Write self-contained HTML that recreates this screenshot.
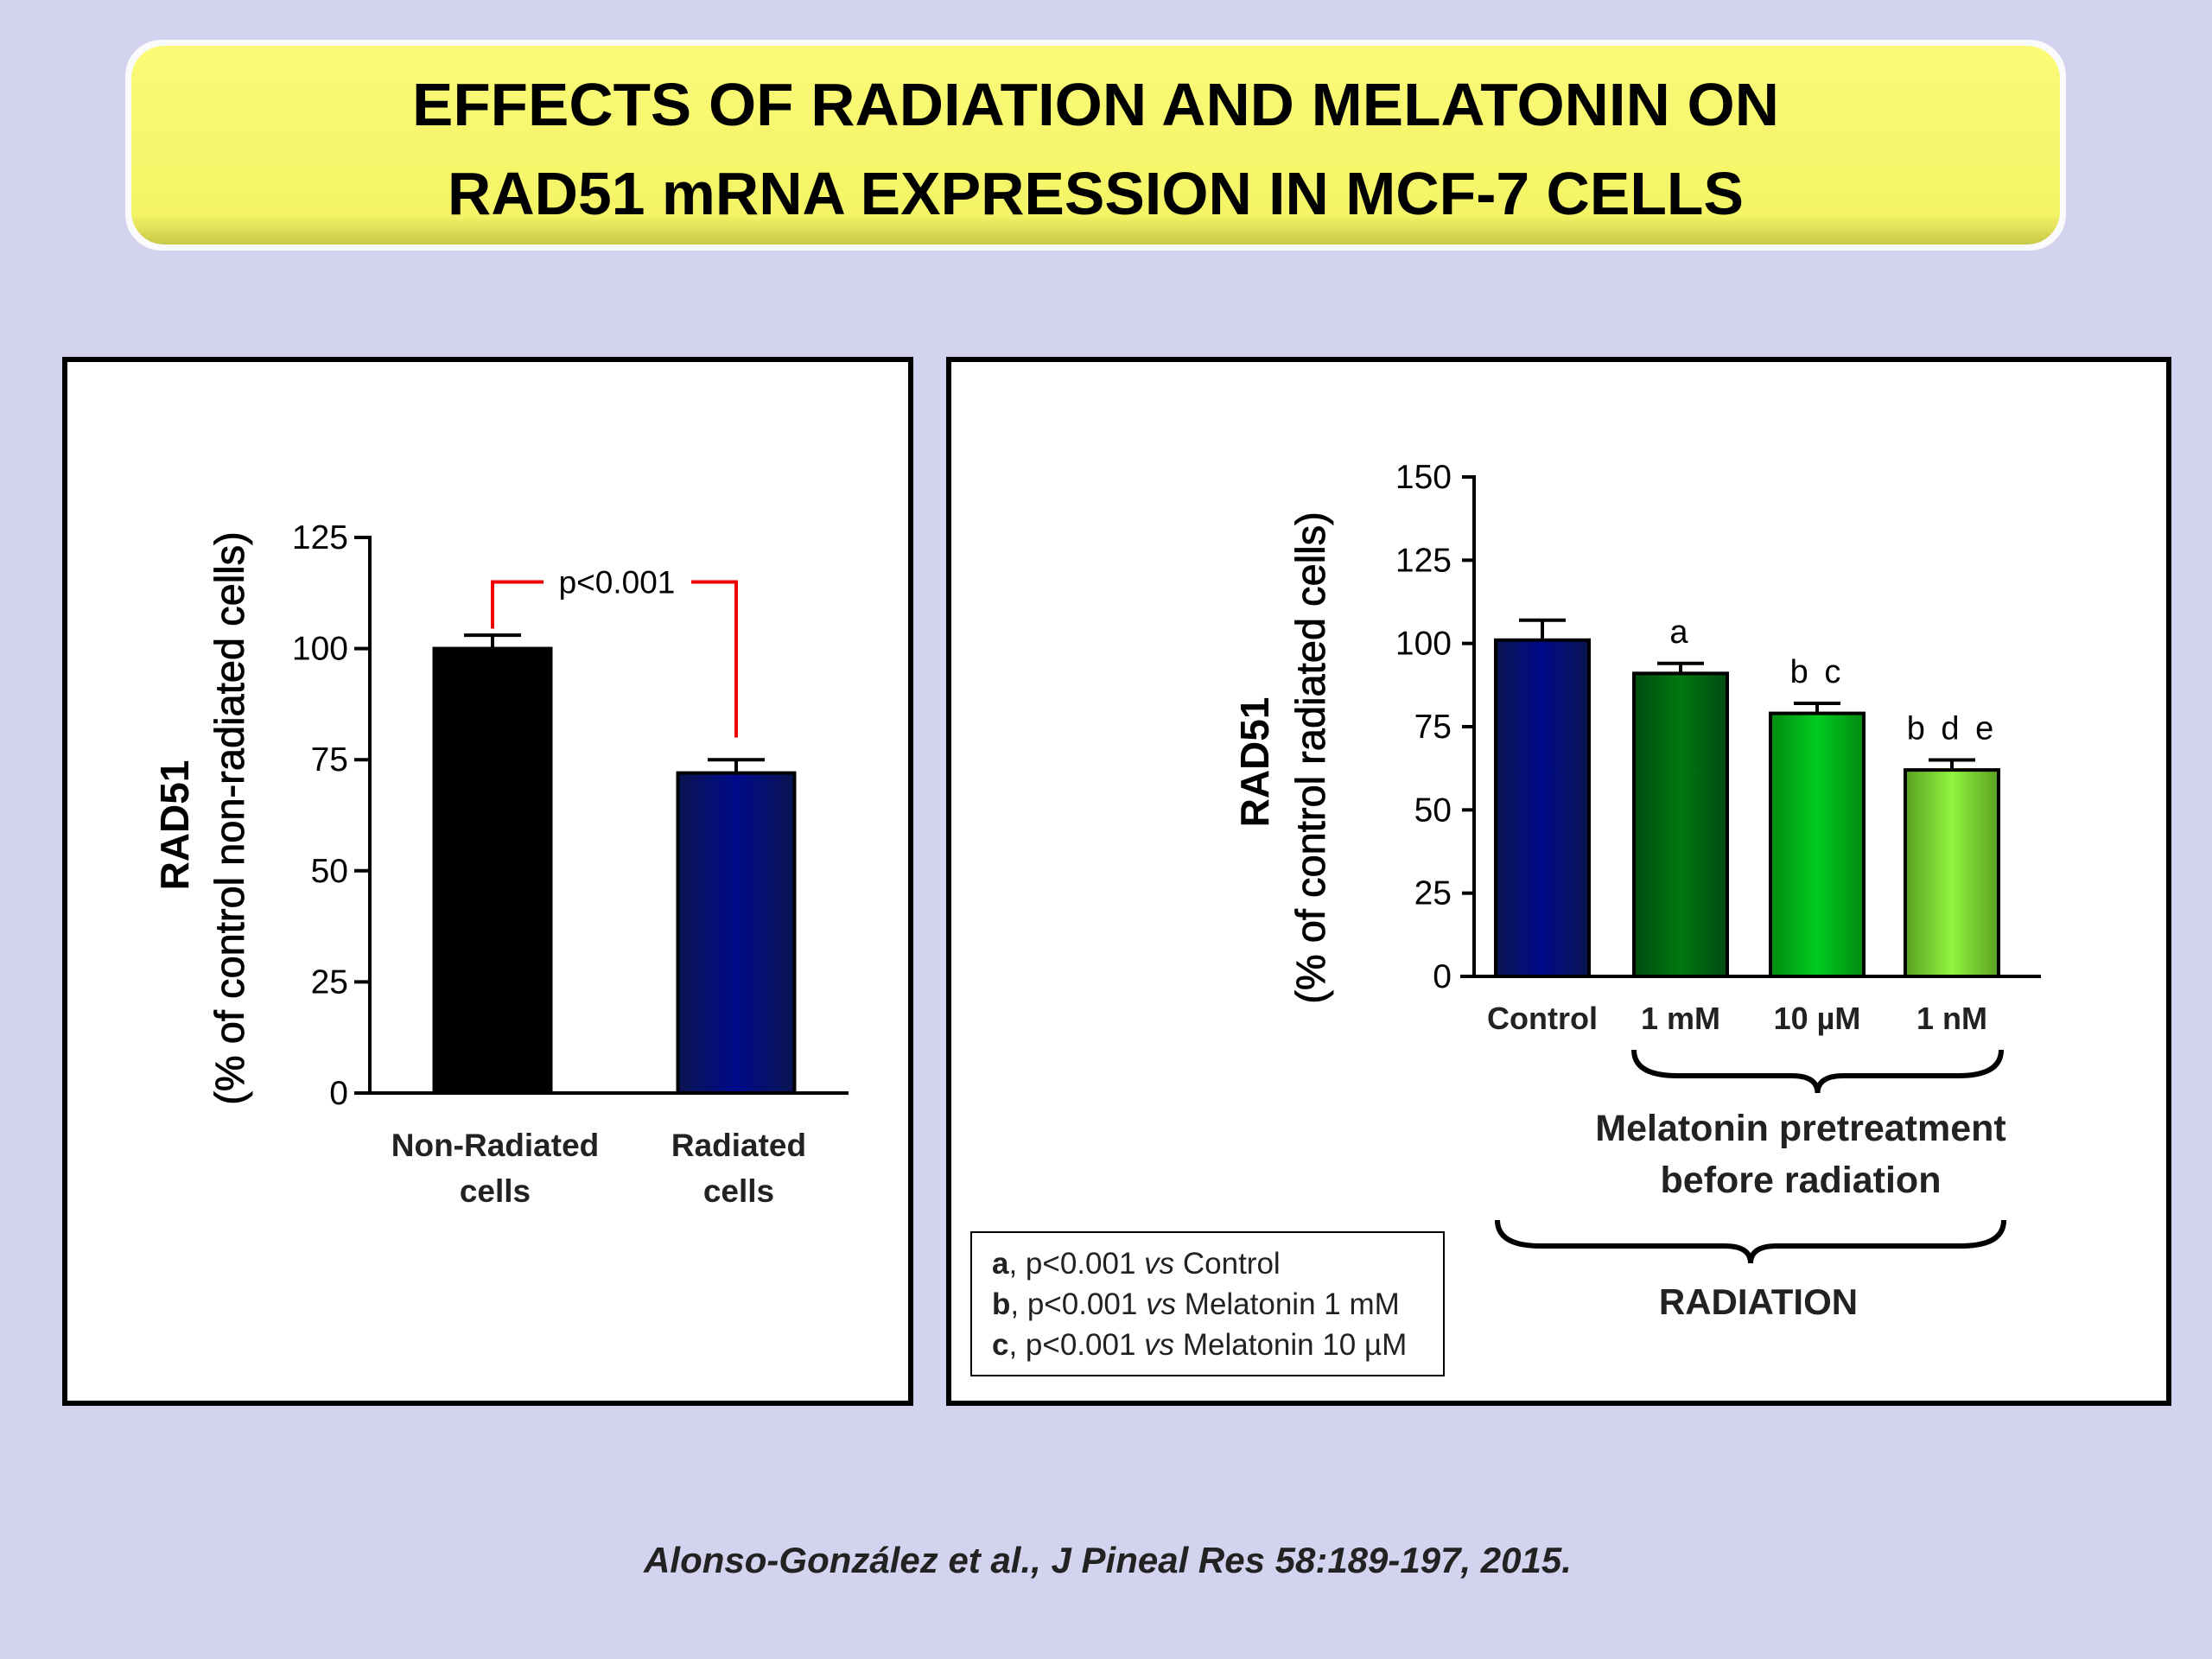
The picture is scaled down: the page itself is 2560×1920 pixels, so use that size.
<!DOCTYPE html>
<html><head><meta charset="utf-8"><style>
html,body{margin:0;padding:0;background:#d3d3ef;}
svg{display:block;font-family:"Liberation Sans",sans-serif;}
</style></head><body>
<svg id="s" width="2560" height="1920" viewBox="0 0 2560 1920">
<defs>
<linearGradient id="gTitle" x1="0" y1="0" x2="0" y2="1"><stop offset="0" stop-color="#fafa78"/><stop offset="0.85" stop-color="#f4f466"/><stop offset="1" stop-color="#c8c84a"/></linearGradient>
<linearGradient id="gNavy" x1="0" x2="1"><stop offset="0" stop-color="#0a1550"/><stop offset="0.5" stop-color="#000a8a"/><stop offset="1" stop-color="#0a1550"/></linearGradient>
<linearGradient id="gG1" x1="0" x2="1"><stop offset="0" stop-color="#004a10"/><stop offset="0.5" stop-color="#00780e"/><stop offset="1" stop-color="#004a10"/></linearGradient>
<linearGradient id="gG2" x1="0" x2="1"><stop offset="0" stop-color="#008a10"/><stop offset="0.5" stop-color="#00cc20"/><stop offset="1" stop-color="#008a10"/></linearGradient>
<linearGradient id="gG3" x1="0" x2="1"><stop offset="0" stop-color="#5aa020"/><stop offset="0.5" stop-color="#90f440"/><stop offset="1" stop-color="#5aa020"/></linearGradient>
</defs>
<rect x="0" y="0" width="2560" height="1920" fill="#d3d3ef"/>
<g>
<rect x="145" y="46" width="2246" height="244" rx="42" fill="#ffffff" opacity="0.9"/>
<rect x="152" y="53" width="2232" height="230" rx="38" fill="url(#gTitle)"/>
<text x="1268" y="145" text-anchor="middle" font-size="70" font-weight="bold" textLength="1582" lengthAdjust="spacingAndGlyphs">EFFECTS OF RADIATION AND MELATONIN ON</text>
<text x="1268" y="248" text-anchor="middle" font-size="70" font-weight="bold" textLength="1500" lengthAdjust="spacingAndGlyphs">RAD51 mRNA EXPRESSION IN MCF-7 CELLS</text>
</g>
<rect x="75" y="416" width="979" height="1208" fill="#fff" stroke="#000" stroke-width="6"/>
<rect x="1098" y="416" width="1412" height="1208" fill="#fff" stroke="#000" stroke-width="6"/>
<g id="left"></g>
<g id="right"></g>
<text x="1282" y="1820" text-anchor="middle" font-size="42" font-weight="bold" font-style="italic" fill="#222">Alonso-González et al., J Pineal Res 58:189-197, 2015.</text>
</svg>
<script>
const NS="http://www.w3.org/2000/svg";
const leftCats=["Non-Radiated|cells","Radiated|cells"];
const leftVals=[100,72];
const leftErr=[103,75];
const leftTicks=[0,25,50,75,100,125];
const rightCats=["Control","1 mM","10 µM","1 nM"];
const rightVals=[101,91,79,62];
const rightErr=[107,94,82,65];
const rightSig=["","a","b c","b d e"];
const rightTicks=[0,25,50,75,100,125,150];

function mk(parent,tag,attrs,text){const e=document.createElementNS(NS,tag);for(const k in attrs)e.setAttribute(k,attrs[k]);if(text!==undefined)e.textContent=text;parent.appendChild(e);return e;}

// LEFT
const L=document.getElementById('left');
const lY=v=>1265-v*(1265-622)/125;
const lX=[570,852],lW=135;
let e;
e=mk(L,'line',{x1:428,y1:1265,x2:428,y2:620,stroke:'#000','stroke-width':4});

e=mk(L,'line',{x1:426,y1:1265,x2:982,y2:1265,stroke:'#000','stroke-width':4});

leftTicks.forEach(t=>{
  mk(L,'line',{x1:410,y1:lY(t),x2:428,y2:lY(t),stroke:'#000','stroke-width':4});
  e=mk(L,'text',{x:403,y:lY(t)+13,'text-anchor':'end','font-size':39},String(t));
  
});
leftVals.forEach((v,i)=>{
  const cx=lX[i];
  mk(L,'line',{x1:cx,y1:lY(v),x2:cx,y2:lY(leftErr[i]),stroke:'#000','stroke-width':4});
  mk(L,'line',{x1:cx-33,y1:lY(leftErr[i]),x2:cx+33,y2:lY(leftErr[i]),stroke:'#000','stroke-width':4});
  e=mk(L,'rect',{x:cx-lW/2,y:lY(v),width:lW,height:lY(0)-lY(v),fill:i==0?'#000':'url(#gNavy)',stroke:'#000','stroke-width':4});
  
  const p=leftCats[i].split('|');
  e=mk(L,'text',{x:cx+3,y:1338,'text-anchor':'middle','font-size':37,'font-weight':'bold',fill:'#222'},p[0]);
  
  mk(L,'text',{x:cx+3,y:1391,'text-anchor':'middle','font-size':37,'font-weight':'bold',fill:'#222'},p[1]);
});
// bracket
const by=lY(115);
e=mk(L,'path',{d:`M${lX[0]} ${lY(104.5)} V${by} H629 M800 ${by} H${lX[1]} V${lY(80)}`,fill:'none',stroke:'#e00','stroke-width':4});

e=mk(L,'text',{x:714,y:by+13,'text-anchor':'middle','font-size':37},'p<0.001');

e=mk(L,'text',{x:0,y:0,'text-anchor':'middle','font-size':46,'font-weight':'bold',transform:'translate(218,955) rotate(-90)'},'RAD51');

e=mk(L,'text',{x:0,y:0,'text-anchor':'middle','font-size':47,stroke:'#000','stroke-width':0.8,transform:'translate(282,947) rotate(-90)'},'(% of control non-radiated cells)');


// RIGHT
const R=document.getElementById('right');
const rY=v=>1130-v*(1130-552)/150;
const rX=[1785,1945,2103,2259],rW=108;
const fills=['url(#gNavy)','url(#gG1)','url(#gG2)','url(#gG3)'];
e=mk(R,'line',{x1:1706,y1:1130,x2:1706,y2:550,stroke:'#000','stroke-width':4});

e=mk(R,'line',{x1:1690,y1:1130,x2:2362,y2:1130,stroke:'#000','stroke-width':4});

rightTicks.forEach(t=>{
  mk(R,'line',{x1:1692,y1:rY(t),x2:1706,y2:rY(t),stroke:'#000','stroke-width':4});
  e=mk(R,'text',{x:1680,y:rY(t)+13,'text-anchor':'end','font-size':39},String(t));
  
});
rightVals.forEach((v,i)=>{
  const cx=rX[i];
  mk(R,'line',{x1:cx,y1:rY(v),x2:cx,y2:rY(rightErr[i]),stroke:'#000','stroke-width':4});
  mk(R,'line',{x1:cx-27,y1:rY(rightErr[i]),x2:cx+27,y2:rY(rightErr[i]),stroke:'#000','stroke-width':4});
  e=mk(R,'rect',{x:cx-rW/2,y:rY(v),width:rW,height:rY(0)-rY(v),fill:fills[i],stroke:'#000','stroke-width':4});
  
  e=mk(R,'text',{x:cx,y:1191,'text-anchor':'middle','font-size':36,'font-weight':'bold',fill:'#222'},rightCats[i]);
  
  if(rightSig[i]){
    e=mk(R,'text',{x:cx,y:rY(rightErr[i])-24,'text-anchor':'middle','font-size':38,'letter-spacing':4},rightSig[i]);
    
  }
});
function brace(x1,x2,y,h,name){
  const m=(x1+x2)/2;
  e=mk(R,'path',{d:`M${x1} ${y} Q${x1} ${y+h*0.6} ${x1+50} ${y+h*0.6} H${m-30} Q${m} ${y+h*0.6} ${m} ${y+h} Q${m} ${y+h*0.6} ${m+30} ${y+h*0.6} H${x2-50} Q${x2} ${y+h*0.6} ${x2} ${y}`,fill:'none',stroke:'#000','stroke-width':6});
  
}
brace(1891,2316,1215,50,'melatonin-brace');
brace(1733,2319,1412,50,'radiation-brace');
e=mk(R,'text',{x:2084,y:1320,'text-anchor':'middle','font-size':43,'font-weight':'bold',fill:'#222'},'Melatonin pretreatment');

mk(R,'text',{x:2084,y:1380,'text-anchor':'middle','font-size':43,'font-weight':'bold',fill:'#222'},'before radiation');
e=mk(R,'text',{x:2035,y:1521,'text-anchor':'middle','font-size':42,'font-weight':'bold',fill:'#222'},'RADIATION');

e=mk(R,'text',{x:0,y:0,'text-anchor':'middle','font-size':46,'font-weight':'bold',transform:'translate(1468,882) rotate(-90)'},'RAD51');

e=mk(R,'text',{x:0,y:0,'text-anchor':'middle','font-size':47,stroke:'#000','stroke-width':0.8,transform:'translate(1533,877) rotate(-90)'},'(% of control radiated cells)');

// legend
e=mk(R,'rect',{x:1124,y:1426,width:547,height:166,fill:'#fff',stroke:'#000','stroke-width':2});

const leg=[['a',', p<0.001 ','vs',' Control'],['b',', p<0.001 ','vs',' Melatonin 1 mM'],['c',', p<0.001 ','vs',' Melatonin 10 µM']];
leg.forEach((l,i)=>{
  const t=mk(R,'text',{x:1148,y:1474+i*47,'font-size':35,fill:'#222'});
  
  
  mk(t,'tspan',{'font-weight':'bold'},l[0]);mk(t,'tspan',{},l[1]);mk(t,'tspan',{'font-style':'italic'},l[2]);mk(t,'tspan',{},l[3]);
});
</script>
</body></html>
